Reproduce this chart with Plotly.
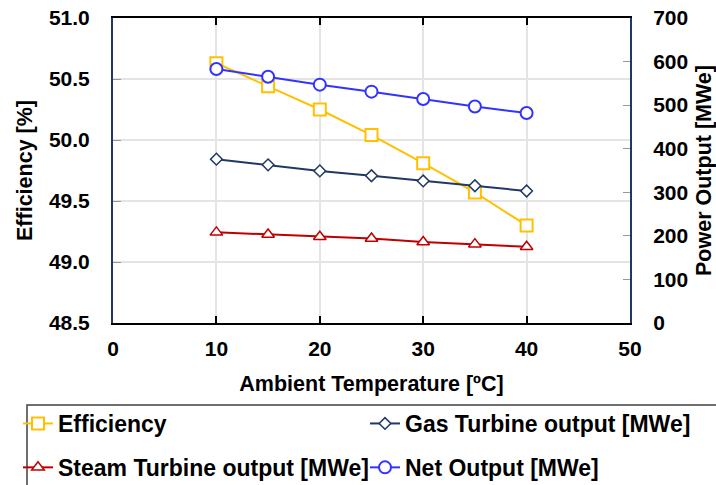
import plotly.graph_objects as go

temps = [10, 15, 20, 25, 30, 35, 40]
efficiency = [50.63, 50.44, 50.25, 50.04, 49.81, 49.57, 49.30]
gas_turbine = [376, 363, 349, 338, 326, 315, 303]
steam_turbine = [208, 203, 198, 194, 186, 181, 175]
net_output = [583, 565, 547, 531, 514, 497, 482]

x_ticks = [0, 10, 20, 30, 40, 50]
eff_ticks = [48.5, 49.0, 49.5, 50.0, 50.5, 51.0]
pow_ticks = [0, 100, 200, 300, 400, 500, 600, 700]

FONT = "Liberation Sans, Arial, sans-serif"
NAVY = "#203864"

fig = go.Figure()
fig.add_trace(go.Scatter(
    x=temps, y=efficiency, name="Efficiency", mode="lines+markers",
    line=dict(color="#FFC000", width=2),
    marker=dict(symbol="square", size=12, color="white", line=dict(color="#FFC000", width=2)),
    legend="legend", legendgroup="a", yaxis="y"))
fig.add_trace(go.Scatter(
    x=temps, y=steam_turbine, name="Steam Turbine output [MWe]", mode="lines+markers",
    line=dict(color="#C00000", width=2),
    marker=dict(symbol="triangle-up", size=11, color="white", line=dict(color="#C00000", width=1.5)),
    legend="legend", legendgroup="b", yaxis="y2"))
fig.add_trace(go.Scatter(
    x=temps, y=gas_turbine, name="Gas Turbine output [MWe]", mode="lines+markers",
    line=dict(color=NAVY, width=2),
    marker=dict(symbol="diamond", size=9, color="white", line=dict(color=NAVY, width=1.5)),
    legend="legend2", legendgroup="c", yaxis="y2"))
fig.add_trace(go.Scatter(
    x=temps, y=net_output, name="Net Output [MWe]", mode="lines+markers",
    line=dict(color="#3333FF", width=2),
    marker=dict(symbol="circle", size=12, color="white", line=dict(color="#3333FF", width=2)),
    legend="legend2", legendgroup="d", yaxis="y2"))

L, R, T, B = 113, 86, 18, 162
W, H = 716, 485
pw = W - L - R
ph = H - T - B

def px_x(p):
    return (p - L) / pw

def px_y(p):
    return (H - B - p) / ph

legend_common = dict(
    orientation="v", traceorder="grouped", tracegroupgap=11,
    font=dict(family=FONT, size=23, color="black", weight=700),
    bgcolor="rgba(0,0,0,0)", borderwidth=0,
    xanchor="left", yanchor="top", itemwidth=30,
)

fig.update_layout(
    width=W, height=H,
    margin=dict(l=L, r=R, t=T, b=B, autoexpand=False),
    paper_bgcolor="white", plot_bgcolor="white",
    font=dict(family=FONT, size=21, color="black", weight=700),
    showlegend=True,
    legend=dict(x=px_x(18), y=px_y(402), **legend_common),
    legend2=dict(x=px_x(365), y=px_y(402), **legend_common),
    xaxis=dict(
        range=[0, 50], tickvals=x_ticks, showgrid=True, gridcolor="#E4E4E4", gridwidth=1.5,
        zeroline=False, showline=True, linecolor="black", linewidth=2, mirror="ticks",
        ticks="inside", ticklen=7, tickcolor="black", tickwidth=1.5,
        tickfont=dict(family=FONT, size=21, color="black", weight=700),
        ticklabelstandoff=6,
        title=dict(text="Ambient Temperature [ºC]", standoff=17,
                   font=dict(family=FONT, size=21.5, color="black", weight=700)),
    ),
    yaxis=dict(
        range=[48.5, 51.0], tickvals=eff_ticks, tickformat=".1f",
        showgrid=True, gridcolor="#E4E4E4", gridwidth=1.5,
        zeroline=False, showline=True, linecolor=NAVY, linewidth=2, mirror=True,
        ticks="inside", ticklen=8, tickcolor="#999999", tickwidth=1,
        tickfont=dict(family=FONT, size=21, color="black", weight=700),
        ticklabelstandoff=17,
        title=dict(text="Efficiency [%]", standoff=10,
                   font=dict(family=FONT, size=21.5, color="black", weight=700)),
    ),
    yaxis2=dict(
        range=[0, 700], tickvals=pow_ticks, overlaying="y", side="right",
        showgrid=False, zeroline=False, showline=True, linecolor=NAVY, linewidth=2,
        ticks="inside", ticklen=7, tickcolor="#999999", tickwidth=1,
        tickfont=dict(family=FONT, size=21, color="black", weight=700),
        ticklabelstandoff=17,
        title=dict(text="Power Output [MWe]", standoff=10,
                   font=dict(family=FONT, size=21.5, color="black", weight=700)),
    ),
    shapes=[dict(type="rect", xref="paper", yref="paper",
                 x0=px_x(27), x1=px_x(722), y0=px_y(405), y1=px_y(492),
                 line=dict(color="#404040", width=1.5), fillcolor="rgba(0,0,0,0)",
                 layer="below")],
)

fig.write_html("out.html")
